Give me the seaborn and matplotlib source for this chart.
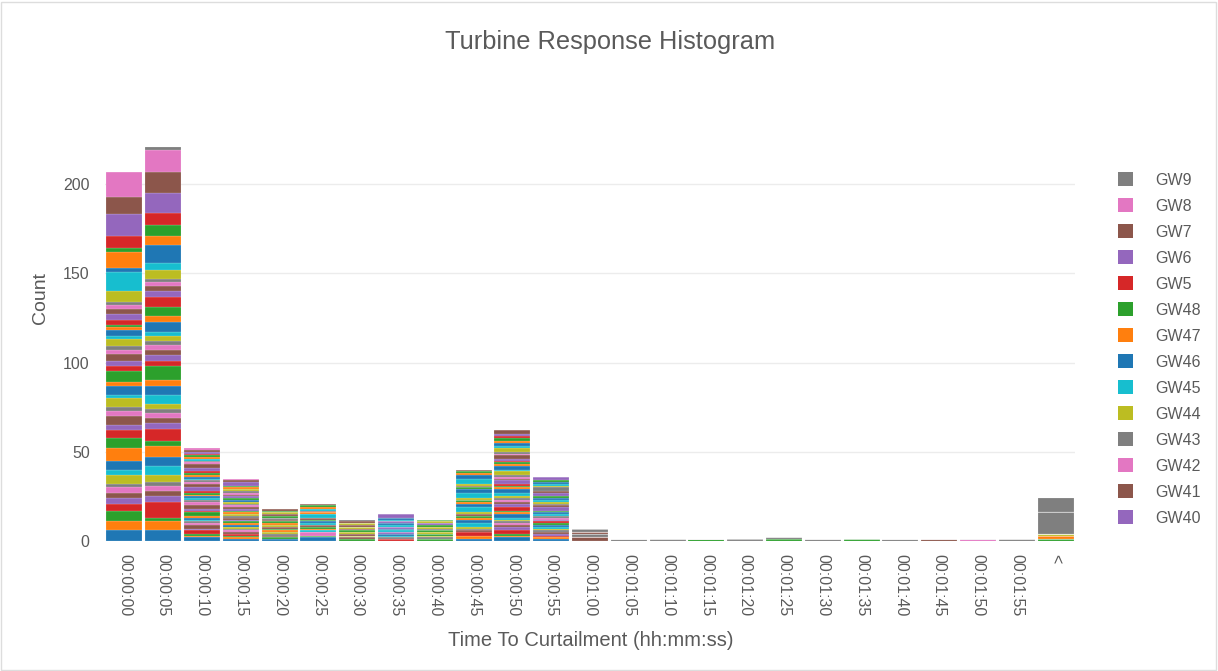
import matplotlib
matplotlib.use("Agg")
import matplotlib.pyplot as plt
import pandas as pd
import seaborn as sns
from matplotlib.patches import Patch, Rectangle

# Turbine names in the (string-sorted) order used for stacking, bottom first
turbines = [
    "GW1", "GW10", "GW11", "GW12", "GW13", "GW14", "GW15", "GW16", "GW17", "GW18",
    "GW19", "GW2", "GW20", "GW21", "GW22", "GW23", "GW24", "GW25", "GW26", "GW27",
    "GW28", "GW29", "GW3", "GW30", "GW31", "GW32", "GW33", "GW34", "GW35", "GW36",
    "GW37", "GW38", "GW39", "GW4", "GW40", "GW41", "GW42", "GW43", "GW44", "GW45",
    "GW46", "GW47", "GW48", "GW5", "GW6", "GW7", "GW8", "GW9",
]

bin_labels = [
    "00:00:00", "00:00:05", "00:00:10", "00:00:15", "00:00:20", "00:00:25",
    "00:00:30", "00:00:35", "00:00:40", "00:00:45", "00:00:50", "00:00:55",
    "00:01:00", "00:01:05", "00:01:10", "00:01:15", "00:01:20", "00:01:25",
    "00:01:30", "00:01:35", "00:01:40", "00:01:45", "00:01:50", "00:01:55", "<",
]

# Events per turbine (same order as `turbines`) in each response-time bin
t_00_00 = [6, 5, 6, 4, 3, 3, 3, 2, 5, 3, 5, 7, 6, 4, 3, 5, 3, 2, 5, 2, 5, 2, 6, 3,
           3, 4, 2, 2, 4, 2, 3, 2, 1, 3, 3, 3, 2, 2, 6, 11, 2, 9, 2, 7, 12, 10, 14, 0]
t_00_05 = [6, 5, 2, 9, 3, 3, 3, 2, 4, 5, 5, 6, 3, 7, 3, 3, 3, 2, 3, 5, 5, 3, 8, 3,
           3, 3, 3, 2, 3, 2, 6, 3, 5, 6, 3, 3, 2, 2, 5, 4, 10, 5, 6, 7, 11, 12, 12, 2]
t_00_10 = [2, 1, 1, 2, 1, 2, 1, 1, 0, 1, 1, 1, 2, 1, 1, 2, 2, 1, 0, 1, 1, 1, 1, 1,
           2, 2, 1, 1, 0, 1, 1, 1, 1, 1, 2, 2, 1, 1, 0, 1, 0, 1, 1, 1, 1, 1, 1, 0]
t_00_15 = [1, 1, 1, 1, 0, 1, 1, 1, 1, 0, 1, 1, 1, 0, 1, 1, 0, 1, 1, 0, 0, 1, 1, 0,
           1, 1, 1, 1, 1, 0, 1, 0, 1, 0, 1, 1, 1, 1, 1, 0, 0, 1, 1, 0, 2, 1, 1, 0]
t_00_20 = [1, 0, 1, 0, 0, 1, 0, 1, 1, 0, 0, 1, 1, 0, 0, 1, 0, 0, 1, 0, 0, 1, 1, 0,
           0, 1, 0, 1, 0, 0, 0, 0, 1, 0, 0, 1, 0, 0, 1, 0, 0, 0, 1, 0, 0, 1, 0, 0]
t_00_25 = [2, 0, 1, 0, 0, 0, 2, 0, 0, 1, 0, 1, 1, 0, 0, 1, 0, 0, 0, 1, 1, 0, 1, 0,
           0, 1, 0, 0, 0, 2, 0, 1, 0, 0, 0, 1, 0, 0, 0, 1, 0, 1, 1, 0, 0, 1, 0, 0]
t_00_30 = [0, 0, 1, 0, 0, 1, 0, 0, 1, 0, 0, 0, 0, 0, 0, 1, 0, 0, 1, 0, 0, 0, 1, 0,
           0, 1, 0, 0, 1, 0, 0, 0, 0, 0, 0, 1, 0, 0, 1, 0, 0, 0, 0, 0, 0, 1, 0, 1]
t_00_35 = [0, 0, 0, 1, 0, 0, 0, 1, 0, 1, 1, 0, 0, 0, 1, 0, 0, 0, 0, 1, 1, 0, 0, 0,
           1, 0, 0, 0, 0, 1, 1, 0, 0, 0, 1, 0, 0, 0, 0, 1, 1, 0, 0, 0, 2, 0, 0, 0]
t_00_40 = [0, 0, 1, 0, 0, 0, 0, 1, 1, 0, 0, 0, 1, 0, 0, 0, 0, 0, 1, 0, 0, 0, 1, 0,
           0, 0, 0, 1, 1, 0, 0, 0, 1, 0, 1, 0, 0, 0, 1, 0, 0, 0, 1, 0, 0, 0, 0, 0]
t_00_45 = [1, 2, 0, 2, 0, 1, 0, 1, 1, 2, 2, 1, 1, 0, 0, 1, 0, 0, 1, 3, 2, 1, 1, 0,
           0, 0, 0, 0, 1, 3, 2, 0, 1, 0, 0, 1, 0, 0, 1, 3, 2, 1, 1, 0, 0, 1, 0, 0]
t_00_50 = [2, 1, 1, 2, 2, 1, 1, 1, 1, 1, 2, 1, 1, 2, 2, 1, 1, 1, 1, 2, 2, 1, 1, 1,
           2, 1, 1, 1, 2, 1, 2, 1, 1, 1, 1, 2, 1, 1, 2, 1, 2, 1, 2, 1, 1, 2, 0, 0]
t_00_55 = [1, 1, 0, 1, 1, 1, 0, 1, 1, 1, 1, 0, 1, 1, 1, 0, 1, 1, 0, 1, 1, 0, 1, 0,
           2, 1, 0, 1, 1, 1, 1, 0, 1, 0, 2, 1, 0, 2, 1, 1, 1, 0, 1, 0, 2, 0, 0, 0]
t_01_00 = [0, 0, 0, 0, 0, 2, 0, 0, 0, 0, 0, 0, 0, 0, 0, 0, 0, 2, 0, 0, 0, 0, 0, 0,
           0, 1, 0, 0, 0, 0, 0, 0, 0, 0, 0, 0, 0, 2, 0, 0, 0, 0, 0, 0, 0, 0, 0, 0]
t_01_05 = [0, 0, 0, 0, 0, 0, 0, 1, 0, 0, 0, 0, 0, 0, 0, 0, 0, 0, 0, 0, 0, 0, 0, 0,
           0, 0, 0, 0, 0, 0, 0, 0, 0, 0, 0, 0, 0, 0, 0, 0, 0, 0, 0, 0, 0, 0, 0, 0]
t_01_10 = [0, 0, 0, 0, 0, 0, 0, 0, 0, 0, 0, 0, 0, 0, 0, 0, 0, 0, 0, 0, 0, 0, 0, 0,
           0, 0, 0, 1, 0, 0, 0, 0, 0, 0, 0, 0, 0, 0, 0, 0, 0, 0, 0, 0, 0, 0, 0, 0]
t_01_15 = [0, 0, 1, 0, 0, 0, 0, 0, 0, 0, 0, 0, 0, 0, 0, 0, 0, 0, 0, 0, 0, 0, 0, 0,
           0, 0, 0, 0, 0, 0, 0, 0, 0, 0, 0, 0, 0, 0, 0, 0, 0, 0, 0, 0, 0, 0, 0, 0]
t_01_20 = [0, 0, 0, 0, 0, 0, 0, 0, 0, 0, 0, 0, 0, 0, 0, 0, 0, 0, 0, 0, 0, 0, 0, 0,
           0, 0, 0, 0, 0, 0, 0, 0, 0, 0, 0, 0, 0, 1, 0, 0, 0, 0, 0, 0, 0, 0, 0, 0]
t_01_25 = [0, 0, 0, 0, 0, 0, 0, 0, 0, 0, 0, 0, 0, 0, 0, 0, 0, 0, 0, 0, 0, 0, 1, 0,
           0, 0, 0, 1, 0, 0, 0, 0, 0, 0, 0, 0, 0, 0, 0, 0, 0, 0, 0, 0, 0, 0, 0, 0]
t_01_30 = [0, 0, 0, 0, 0, 0, 0, 0, 0, 0, 0, 0, 0, 0, 0, 0, 0, 1, 0, 0, 0, 0, 0, 0,
           0, 0, 0, 0, 0, 0, 0, 0, 0, 0, 0, 0, 0, 0, 0, 0, 0, 0, 0, 0, 0, 0, 0, 0]
t_01_35 = [0, 0, 0, 0, 0, 0, 0, 0, 0, 0, 0, 0, 0, 0, 0, 0, 0, 0, 0, 0, 0, 0, 0, 0,
           0, 0, 0, 0, 0, 0, 0, 0, 1, 0, 0, 0, 0, 0, 0, 0, 0, 0, 0, 0, 0, 0, 0, 0]
t_01_40 = [0, 0, 0, 0, 0, 0, 0, 1, 0, 0, 0, 0, 0, 0, 0, 0, 0, 0, 0, 0, 0, 0, 0, 0,
           0, 0, 0, 0, 0, 0, 0, 0, 0, 0, 0, 0, 0, 0, 0, 0, 0, 0, 0, 0, 0, 0, 0, 0]
t_01_45 = [0, 0, 0, 0, 0, 0, 0, 0, 0, 0, 0, 0, 0, 0, 0, 1, 0, 0, 0, 0, 0, 0, 0, 0,
           0, 0, 0, 0, 0, 0, 0, 0, 0, 0, 0, 0, 0, 0, 0, 0, 0, 0, 0, 0, 0, 0, 0, 0]
t_01_50 = [0, 0, 0, 0, 0, 0, 0, 0, 0, 0, 0, 0, 0, 0, 0, 0, 1, 0, 0, 0, 0, 0, 0, 0,
           0, 0, 0, 0, 0, 0, 0, 0, 0, 0, 0, 0, 0, 0, 0, 0, 0, 0, 0, 0, 0, 0, 0, 0]
t_01_55 = [0, 0, 0, 0, 0, 0, 0, 0, 0, 0, 0, 0, 0, 0, 0, 0, 0, 0, 0, 0, 0, 0, 0, 0,
           0, 0, 0, 1, 0, 0, 0, 0, 0, 0, 0, 0, 0, 0, 0, 0, 0, 0, 0, 0, 0, 0, 0, 0]
t_over = [0, 0, 1, 0, 0, 0, 0, 0, 0, 0, 0, 2, 0, 0, 0, 0, 0, 0, 1, 0, 0, 0, 0, 0,
          0, 0, 0, 0, 0, 0, 0, 0, 0, 0, 0, 0, 0, 12, 0, 0, 0, 0, 0, 0, 0, 0, 0, 8]

bin_counts = [
    t_00_00, t_00_05, t_00_10, t_00_15, t_00_20, t_00_25, t_00_30, t_00_35,
    t_00_40, t_00_45, t_00_50, t_00_55, t_01_00, t_01_05, t_01_10, t_01_15,
    t_01_20, t_01_25, t_01_30, t_01_35, t_01_40, t_01_45, t_01_50, t_01_55, t_over,
]

# Legend entries visible in the scrolled legend panel
legend_names = ["GW9", "GW8", "GW7", "GW6", "GW5", "GW48", "GW47",
                "GW46", "GW45", "GW44", "GW43", "GW42", "GW41", "GW40"]

# Long-form table: one weighted row per (bin, turbine)
rows = []
for b, counts in enumerate(bin_counts):
    for name, c in zip(turbines, counts):
        rows.append((b, name, c))
df = pd.DataFrame(rows, columns=["bin", "turbine", "count"])

sns.set_theme(style="white")
plt.rcParams["font.family"] = ["Liberation Sans", "DejaVu Sans"]
text_color = "#5a5a5a"

tab10 = sns.color_palette("tab10", 10)
palette = {name: tab10[i % 10] for i, name in enumerate(turbines)}

fig = plt.figure(figsize=(12.18, 6.71), dpi=100)
ax = fig.add_axes([105 / 1218, 130 / 671, 970 / 1218, 414 / 671])

sns.histplot(
    data=df, x="bin", hue="turbine", weights="count",
    hue_order=turbines[::-1], palette=palette,
    multiple="stack", discrete=True, shrink=0.93,
    alpha=1, edgecolor="white", linewidth=0.12,
    legend=False, ax=ax,
)

ax.set_xlim(-0.5, len(bin_labels) - 0.5)
ax.set_ylim(0, 232)
ax.set_yticks([0, 50, 100, 150, 200])
ax.yaxis.grid(True, color="#ececec", linewidth=1)
ax.set_axisbelow(True)
for s in ax.spines.values():
    s.set_visible(False)

ax.set_xticks(range(len(bin_labels)))
ax.set_xticklabels(bin_labels, rotation=-90, ha="center", va="top")
ax.tick_params(axis="x", length=0, pad=9, labelsize=11.5, labelcolor=text_color)
ax.tick_params(axis="y", length=0, pad=11, labelsize=11.5, labelcolor=text_color)

ax.set_xlabel("")
ax.set_ylabel("")
fig.text(591 / 1218, 1 - 640 / 671, "Time To Curtailment (hh:mm:ss)",
         ha="center", va="center", fontsize=14.5, color=text_color)
fig.text(40 / 1218, 1 - 298 / 671, "Count", rotation=90,
         ha="center", va="center", fontsize=14, color=text_color)
fig.text(610 / 1218, 1 - 42 / 671, "Turbine Response Histogram",
         ha="center", va="center", fontsize=18.3, color=text_color)

handles = [Patch(facecolor=palette[n], edgecolor="none") for n in legend_names]
fig.legend(
    handles, legend_names, loc="upper left",
    bbox_to_anchor=(1112 / 1218, 1 - 166 / 671),
    frameon=False, fontsize=11.5, labelcolor=text_color,
    handlelength=0.9, handleheight=0.9, handletextpad=1.4,
    labelspacing=0.68, borderaxespad=0,
)

fig.add_artist(Rectangle((0.001, 0.001), 0.997, 0.996, transform=fig.transFigure,
                         fill=False, edgecolor="#dddddd", linewidth=1))

fig.savefig("out.png", dpi=100)
